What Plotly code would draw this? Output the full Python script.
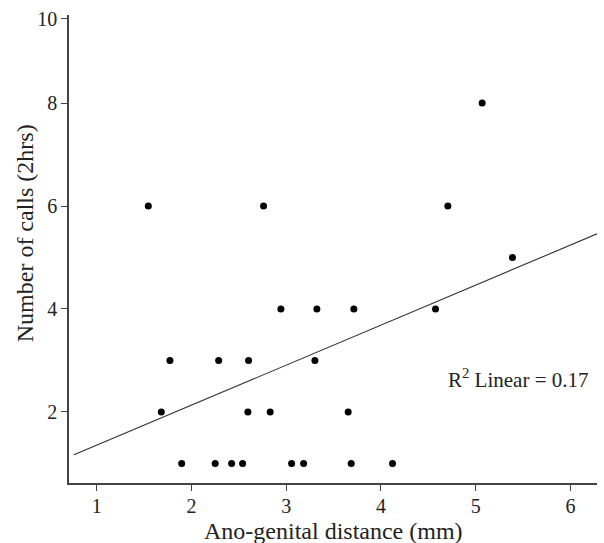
import numpy as np
import plotly.graph_objects as go

# Data
agd_mm = [1.897, 2.251, 2.424, 2.540, 3.057, 3.184, 3.686, 4.122,
          1.682, 2.596, 2.831, 3.654,
          1.773, 2.287, 2.603, 3.303,
          2.944, 3.324, 3.714, 4.576,
          5.388,
          1.545, 2.761, 4.706,
          5.068]
calls = [1, 1, 1, 1, 1, 1, 1, 1,
         2, 2, 2, 2,
         3, 3, 3, 3,
         4, 4, 4, 4,
         5,
         6, 6, 6,
         8]
x_ticks = [1, 2, 3, 4, 5, 6]
y_ticks = [2, 4, 6, 8, 9.64]
y_tick_text = ["2", "4", "6", "8", "10"]
fit_x = [0.76, 6.28]
r2_label = "R<sup>2</sup> Linear = 0.17"
x_title = "Ano-genital distance (mm)"
y_title = "Number of calls (2hrs)"

slope, intercept = np.polyfit(agd_mm, calls, 1)
fit_y = [intercept + slope * v for v in fit_x]

FONT = "Liberation Serif"

fig = go.Figure()
fig.add_trace(go.Scatter(x=fit_x, y=fit_y, mode="lines",
                         line=dict(color="#333333", width=1.1),
                         showlegend=False, hoverinfo="skip"))
fig.add_trace(go.Scatter(x=agd_mm, y=calls, mode="markers",
                         marker=dict(color="black", size=7),
                         showlegend=False))

fig.add_annotation(x=5.45, y=2.65, xref="x", yref="y", text=r2_label,
                   showarrow=False, font=dict(family=FONT, size=21, color="#222222"))
fig.add_annotation(x=-0.083, y=0.534, xref="paper", yref="paper", text=y_title,
                   textangle=-90, showarrow=False, xanchor="center", yanchor="middle",
                   font=dict(family=FONT, size=24, color="#222222"))
fig.add_annotation(x=0.5, y=-0.102, xref="paper", yref="paper", text=x_title,
                   showarrow=False, xanchor="center", yanchor="middle",
                   font=dict(family=FONT, size=24, color="#222222"))

fig.update_layout(
    width=604, height=543,
    margin=dict(l=69, r=7, t=15, b=60, autoexpand=False),
    paper_bgcolor="white", plot_bgcolor="white",
    font=dict(family=FONT, size=20, color="#222222"),
    xaxis=dict(range=[0.708, 6.28], tickvals=x_ticks, ticks="outside", ticklen=6,
               ticklabelstandoff=-2,
               tickcolor="#444444", showline=True, linecolor="#444444", linewidth=1.6,
               showgrid=False, zeroline=False, automargin=False),
    yaxis=dict(range=[0.62, 9.71], tickvals=y_ticks, ticktext=y_tick_text,
               ticks="outside", ticklen=6,
               tickcolor="#444444", showline=True, linecolor="#444444", linewidth=1.6,
               showgrid=False, zeroline=False, automargin=False),
)

fig.write_html("out.html", config={"displayModeBar": False},
               post_script="document.body.style.margin='0';document.body.style.padding='0';")
